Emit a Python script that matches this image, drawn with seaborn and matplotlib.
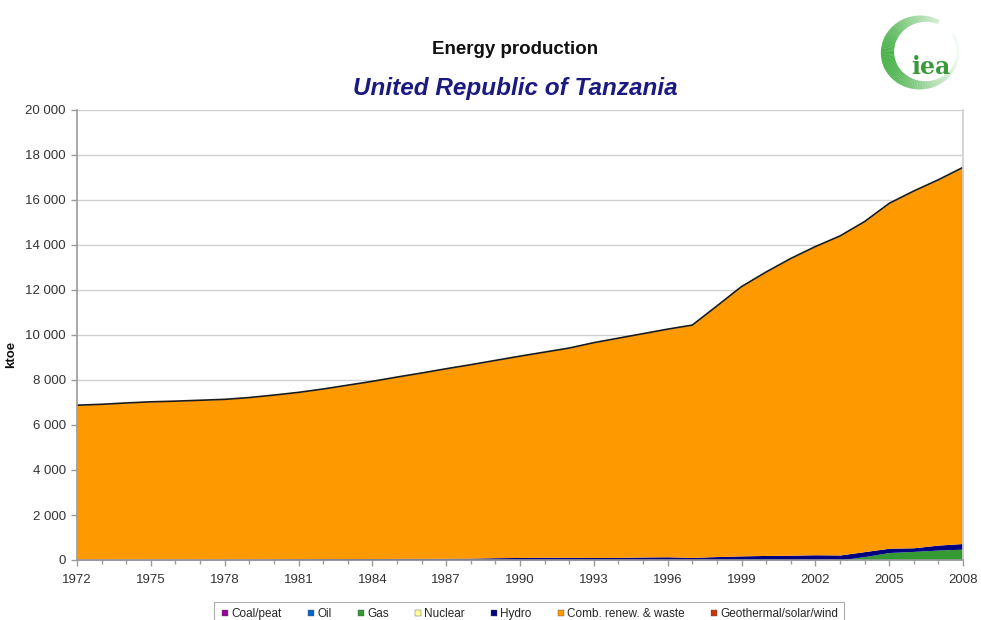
import numpy as np
import pandas as pd
import matplotlib
matplotlib.use("Agg")
import matplotlib.pyplot as plt
from matplotlib.lines import Line2D
from matplotlib.patches import Wedge
from matplotlib.ticker import FuncFormatter, MultipleLocator
import seaborn as sns

# ---- data (ktoe) ----
years = list(range(1972, 2009))
coal_peat = [3] * 37
oil = [0] * 37
gas = [0] * 32 + [150, 330, 380, 440, 480]
nuclear = [0] * 37
hydro = [25, 27, 30, 32, 35, 38, 40, 45, 50, 55, 60, 62, 65, 70, 72, 75, 80, 100,
         110, 120, 115, 110, 112, 130, 140, 110, 150, 180, 200, 210, 230, 220, 220,
         190, 160, 220, 250]
comb_renew = [6852, 6890, 6947, 6995, 7022, 7059, 7097, 7172, 7277, 7392, 7537,
              7705, 7872, 8057, 8235, 8422, 8597, 8767, 8947, 9117, 9302, 9547,
              9745, 9927, 10117, 10327, 11137, 11967, 12597, 13187, 13697, 14177,
              14667, 15327, 15857, 16237, 16717]
geothermal = [0] * 37

series_names = ["Coal/peat", "Oil", "Gas", "Nuclear", "Hydro",
                "Comb. renew. & waste", "Geothermal/solar/wind"]
series_colors = ["#990099", "#0066CC", "#339933", "#FFFF99", "#000080",
                 "#FF9900", "#CC3300"]

df = pd.DataFrame({"year": years, "Coal/peat": coal_peat, "Oil": oil, "Gas": gas,
                   "Nuclear": nuclear, "Hydro": hydro,
                   "Comb. renew. & waste": comb_renew,
                   "Geothermal/solar/wind": geothermal})

sns.set_theme(style="white")
plt.rcParams["font.family"] = ["Liberation Sans", "DejaVu Sans"]

fig = plt.figure(figsize=(9.81, 6.2), dpi=100)
ax = fig.add_axes([77 / 981, 1 - 560 / 620, 886 / 981, 450 / 620])

ax.stackplot(df["year"], [df[n] for n in series_names], colors=series_colors,
             linewidth=0)
total = df[series_names].sum(axis=1)
ax.plot(df["year"], total, color="#1a1a1a", lw=1.2)

ax.set_xlim(1972, 2008)
ax.set_ylim(0, 20000)
ax.yaxis.set_major_locator(MultipleLocator(2000))
ax.yaxis.set_major_formatter(FuncFormatter(lambda v, p: f"{int(v):,}".replace(",", " ")))
ax.set_xticks(list(range(1972, 2006, 3)) + [2008])
ax.xaxis.set_minor_locator(MultipleLocator(1))
ax.grid(axis="y", color="#d0d0d0", lw=1)
ax.set_axisbelow(True)

for s in ["left", "bottom"]:
    ax.spines[s].set_color("#9a9a9a")
    ax.spines[s].set_linewidth(1.2)
ax.spines["top"].set_visible(False)
ax.spines["right"].set_color("#d0d0d0")

ax.tick_params(axis="both", which="major", labelsize=9.5, colors="#333333",
               length=4, width=1, direction="out", left=True, bottom=True)
ax.tick_params(axis="x", which="minor", length=3, width=1, color="#9a9a9a",
               bottom=True)
ax.tick_params(axis="x", which="major", color="#9a9a9a", pad=6)
ax.tick_params(axis="y", which="major", color="#9a9a9a", pad=4)

ax.set_ylabel("ktoe", fontsize=9.5, fontweight="bold", color="#111111")
ax.yaxis.set_label_coords(-0.068, 0.456)

fig.text(515 / 981, 1 - 50 / 620, "Energy production", ha="center", va="center",
         fontsize=13.5, fontweight="bold", color="#111111")
fig.text(515 / 981, 1 - 88 / 620, "United Republic of Tanzania", ha="center",
         va="center", fontsize=17.5, fontweight="bold", style="italic",
         color="#1a1a80")

# legend
handles = [Line2D([0], [0], marker="s", ls="none", markersize=5,
                  markerfacecolor=c, markeredgecolor="#555555", markeredgewidth=0.3)
           for c in series_colors]
leg = fig.legend(handles, series_names, loc="upper center", ncol=7,
                 bbox_to_anchor=(529 / 981, 1 - 596 / 620), fontsize=8.5,
                 frameon=True, fancybox=False, edgecolor="#999999",
                 handletextpad=0.1, columnspacing=2.0, handlelength=0.9,
                 borderpad=0.5)
leg.get_frame().set_linewidth(0.8)

# IEA emblem: crescent ring, thick and dark on the left, fading to the upper right
lax = fig.add_axes([875 / 981, 1 - 95 / 620, 90 / 981, 85 / 620])
lax.set_xlim(-1.2, 1.2)
lax.set_ylim(-1.15, 1.15)
lax.set_aspect("equal")
lax.axis("off")
n = 120
for i in range(n):
    a0 = 60 + i * 330 / n
    mid = a0 + 165 / n
    w = 0.5 * (1 + np.cos(np.radians(mid - 190)))  # 1 at the left, 0 at the right
    fade = 1 - w
    g = (0.30 + 0.65 * fade, 0.70 + 0.28 * fade, 0.30 + 0.65 * fade)
    lax.add_patch(Wedge((0.12 * (1 - w) - 0.06, 0), 1.0, a0, a0 + 330 / n + 0.6,
                        width=0.06 + 0.30 * w, color=g, lw=0))
lax.text(0.3, -0.38, "iea", ha="center", va="center", fontsize=17,
         fontweight="bold", family="DejaVu Serif", color="#3a9a3a")

fig.savefig("out.png", dpi=100, facecolor="white")
